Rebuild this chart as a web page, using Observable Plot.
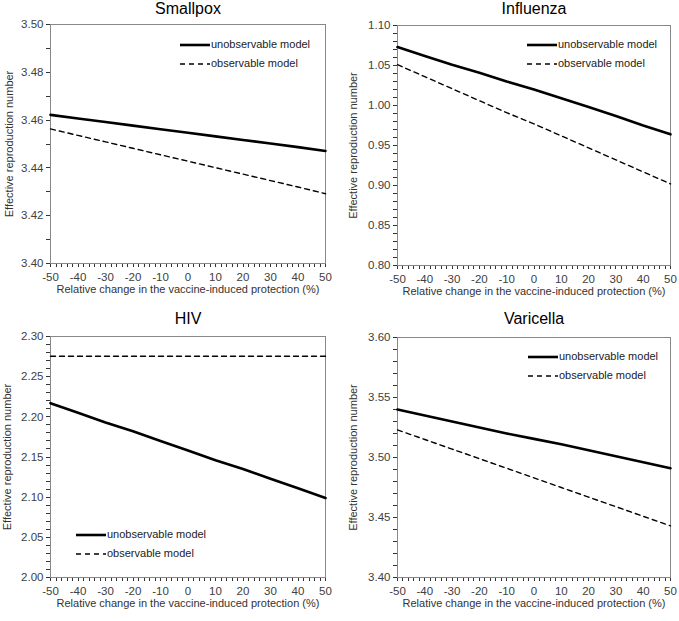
<!DOCTYPE html>
<html><head><meta charset="utf-8">
<script src="https://cdn.jsdelivr.net/npm/d3@7"></script>
<script src="https://cdn.jsdelivr.net/npm/@observablehq/plot@0.6"></script>
<style>
body{margin:0;background:#fff;font-family:"Liberation Sans",Arial,sans-serif;}
#wrap{position:relative;width:679px;height:621px;overflow:hidden;}
.legend{position:absolute;font-size:11px;color:#222;line-height:19px;}
.legend div{display:flex;align-items:center;height:19px;}
.legend svg{display:block;margin-right:1px;}
</style></head><body><div id="wrap"></div>
<script>
// ---- data ----
const xValues = [-50, -40, -30, -20, -10, 0, 10, 20, 30, 40, 50];
const xTickLabels = [-50, -40, -30, -20, -10, 0, 10, 20, 30, 40, 50];

const smallpoxUnobs = [3.4622, 3.4607, 3.4592, 3.4577, 3.4562, 3.4547, 3.4532, 3.4517, 3.4502, 3.4487, 3.4471];
const smallpoxObs   = [3.4563, 3.4536, 3.4509, 3.4482, 3.4455, 3.4428, 3.4401, 3.4374, 3.4347, 3.4320, 3.4292];
const smallpoxTicks = [3.40, 3.42, 3.44, 3.46, 3.48, 3.50];

const influenzaUnobs = [1.073, 1.062, 1.051, 1.041, 1.030, 1.020, 1.009, 0.998, 0.987, 0.975, 0.964];
const influenzaObs   = [1.051, 1.036, 1.021, 1.006, 0.991, 0.977, 0.962, 0.947, 0.932, 0.917, 0.902];
const influenzaTicks = [0.80, 0.85, 0.90, 0.95, 1.00, 1.05, 1.10];

const hivUnobs = [2.217, 2.205, 2.193, 2.182, 2.170, 2.158, 2.146, 2.135, 2.123, 2.111, 2.099];
const hivObs   = [2.2755, 2.2755, 2.2755, 2.2755, 2.2755, 2.2755, 2.2755, 2.2755, 2.2755, 2.2755, 2.2755];
const hivTicks = [2.00, 2.05, 2.10, 2.15, 2.20, 2.25, 2.30];

const varicellaUnobs = [3.540, 3.535, 3.530, 3.525, 3.520, 3.5155, 3.511, 3.506, 3.501, 3.496, 3.491];
const varicellaObs   = [3.523, 3.515, 3.507, 3.499, 3.491, 3.483, 3.475, 3.467, 3.459, 3.451, 3.443];
const varicellaTicks = [3.40, 3.45, 3.50, 3.55, 3.60];

const seriesNames = ["unobservable model", "observable model"];
const xLabel = "Relative change in the vaccine-induced protection (%)";
const yLabel = "Effective reproduction number";

// ---- layout ----
const panels = [
  {title: "Smallpox", unobs: smallpoxUnobs, obs: smallpoxObs, ticks: smallpoxTicks,
   left: 0, top: 0, width: 340, height: 310, mt: 24, mb: 47, ml: 50, mr: 15, ylo: 45.5,
   legend: {left: 180, top: 35}},
  {title: "Influenza", unobs: influenzaUnobs, obs: influenzaObs, ticks: influenzaTicks,
   left: 340, top: 0, width: 339, height: 310, mt: 25, mb: 45, ml: 57, mr: 9, ylo: 48.5,
   legend: {left: 527, top: 35}},
  {title: "HIV", unobs: hivUnobs, obs: hivObs, ticks: hivTicks,
   left: 0, top: 310, width: 340, height: 311, mt: 26, mb: 44, ml: 50, mr: 15, ylo: 47.5,
   legend: {left: 76, top: 525}},
  {title: "Varicella", unobs: varicellaUnobs, obs: varicellaObs, ticks: varicellaTicks,
   left: 340, top: 310, width: 339, height: 311, mt: 27, mb: 44, ml: 57, mr: 9, ylo: 48.5,
   legend: {left: 528, top: 347}}
];

const wrap = document.getElementById("wrap");
const TICK = 4;

for (const p of panels) {
  const rows = [];
  xValues.forEach((x, i) => {
    rows.push({x, y: p.unobs[i], s: seriesNames[0]});
    rows.push({x, y: p.obs[i], s: seriesNames[1]});
  });
  const lo = p.ticks[0], hi = p.ticks[p.ticks.length - 1];
  const minorY = d3.ticks(lo, hi, Math.round((hi - lo) / 0.01));
  const minorX = d3.range(-50, 51, 2);
  const plotW = p.width - p.ml - p.mr;
  const plotH = p.height - p.mt - p.mb;
  const chart = Plot.plot({
    width: p.width, height: p.height,
    marginTop: p.mt, marginBottom: p.mb, marginLeft: p.ml, marginRight: p.mr,
    style: {fontFamily: "'Liberation Sans', Arial, sans-serif"},
    x: {domain: [-50, 50]},
    y: {domain: [lo, hi]},
    marks: [
      // minor + major tick marks (outside, Excel style)
      Plot.ruleX(minorX, {x: d => d, insetTop: plotH - TICK, dy: TICK, stroke: "#333", strokeWidth: 1, shapeRendering: "crispEdges"}),
      Plot.ruleY(minorY, {y: d => d, insetRight: plotW - TICK, dx: -TICK, stroke: "#333", strokeWidth: 1, shapeRendering: "crispEdges"}),
      Plot.axisY({ticks: p.ticks, tickSize: 0, tickPadding: 7, tickFormat: d3.format(".2f"),
        fontSize: 11.5, fill: "#404040",
        label: yLabel, labelAnchor: "center", labelArrow: "none", labelOffset: p.ylo}),
      Plot.axisX({ticks: xTickLabels, tickSize: 0, tickPadding: 9, tickFormat: d => String(d),
        fontSize: 11.5, fill: "#404040",
        label: xLabel, labelAnchor: "center", labelArrow: "none", labelOffset: 29}),
      Plot.frame({stroke: "#888"}),
      Plot.line(rows.filter(d => d.s === seriesNames[0]), {x: "x", y: "y", stroke: "#000", strokeWidth: 2.6}),
      Plot.line(rows.filter(d => d.s === seriesNames[1]), {x: "x", y: "y", stroke: "#000", strokeWidth: 1.4, strokeDasharray: "5,4"}),
      Plot.text([p.title], {text: d => d, frameAnchor: "top", dy: -p.mt + 2, lineAnchor: "top", fontSize: 16, fill: "#000"})
    ]
  });
  chart.style.position = "absolute";
  chart.style.left = p.left + "px";
  chart.style.top = p.top + "px";
  chart.querySelectorAll('[aria-label="y-axis label"] text, [aria-label="x-axis label"] text').forEach(t => {
    t.setAttribute("font-size", "11"); t.setAttribute("fill", "#333");
  });
  wrap.appendChild(chart);

  const lg = document.createElement("div");
  lg.className = "legend";
  lg.style.left = p.legend.left + "px";
  lg.style.top = p.legend.top + "px";
  seriesNames.forEach((name, i) => {
    const row = document.createElement("div");
    row.innerHTML = `<svg width="30" height="6"><line x1="0" x2="30" y1="3" y2="3" stroke="#000" stroke-width="${i ? 1.4 : 2.6}" ${i ? 'stroke-dasharray="5,4"' : ''}/></svg><span>${name}</span>`;
    lg.appendChild(row);
  });
  wrap.appendChild(lg);
}
</script>
</body></html>
